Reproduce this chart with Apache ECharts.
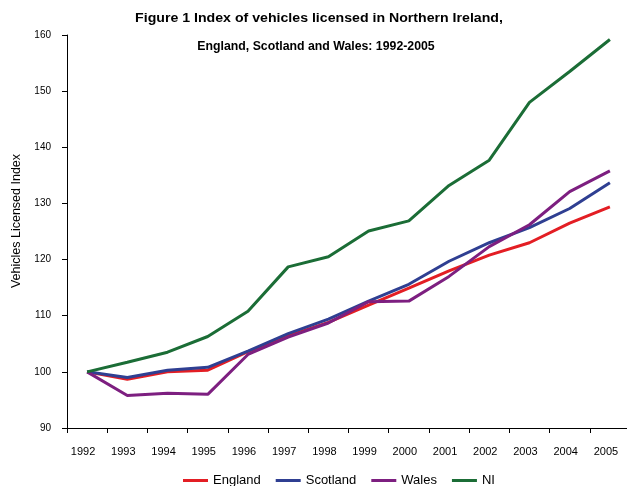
<!DOCTYPE html>
<html><head><meta charset="utf-8">
<script src="https://cdn.jsdelivr.net/npm/echarts@6/dist/echarts.min.js"></script>
<style>html,body{margin:0;padding:0;background:#fff}#c{width:627px;height:486px}</style>
</head><body><div id="c"></div>
<script>
const years = ['1992','1993','1994','1995','1996','1997','1998','1999','2000','2001','2002','2003','2004','2005'];
const england  = [100, 98.7, 100.0, 100.3, 103.6, 106.4, 108.8, 111.9, 114.9, 118.0, 120.8, 123.0, 126.5, 129.4];
const scotland = [100, 99.0, 100.3, 100.8, 103.7, 106.8, 109.4, 112.6, 115.6, 119.7, 123.0, 125.7, 129.1, 133.7];
const wales    = [100, 95.8, 96.2, 96.0, 103.1, 106.2, 108.7, 112.5, 112.6, 117.0, 122.3, 126.2, 132.1, 135.8];
const ni       = [100, 101.7, 103.5, 106.3, 110.8, 118.7, 120.5, 125.1, 126.9, 133.2, 137.7, 148.0, 153.5, 159.2];
const seriesNames = ['England','Scotland','Wales','NI'];
const colors = ['#e31e24','#2f3f92','#7d1f80','#1b6d36'];
const yTicks = {min: 90, max: 160, interval: 10};
const titleLine1 = 'Figure 1 Index of vehicles licensed in Northern Ireland,';
const titleLine2 = 'England, Scotland and Wales: 1992-2005';
const yName = 'Vehicles Licensed Index';

const font = 'Liberation Sans, Arial, Helvetica, sans-serif';
const chart = echarts.init(document.getElementById('c'), null, {renderer: 'canvas'});
const data = [england, scotland, wales, ni];
const tStyle = (t) => ({text: t, fontFamily: font, fontSize: 12.3, fontWeight: 'bold', fill: '#000', textAlign: 'center', textVerticalAlign: 'middle'});
chart.setOption({
  animation: false,
  graphic: [
    {type: 'text', x: 319, y: 19, scaleX: 1.15, style: tStyle(titleLine1)},
    {type: 'text', x: 316, y: 47, style: tStyle(titleLine2)},
    {
      type: 'text', x: 17, y: 221, rotation: Math.PI / 2,
      style: {text: yName, fontFamily: font, fontSize: 12.5, fill: '#000', textAlign: 'center', textVerticalAlign: 'middle'}
    }
  ],
  legend: {
    bottom: -6, left: 178,
    itemWidth: 25, itemHeight: 3, itemGap: 15,
    icon: 'rect',
    textStyle: {fontFamily: font, fontSize: 13, color: '#000'},
    data: seriesNames
  },
  grid: {left: 67, right: -3, top: 35, bottom: 58, containLabel: false, outerBoundsMode: 'none'},
  xAxis: {
    type: 'category', data: years, boundaryGap: true,
    axisLine: {lineStyle: {color: '#000', width: 1}},
    axisTick: {show: true, length: 5, lineStyle: {color: '#000'}},
    axisLabel: {fontFamily: font, fontSize: 11, color: '#000', margin: 18, interval: 0, padding: [0, 8, 0, 0]}
  },
  yAxis: {
    type: 'value', min: yTicks.min, max: yTicks.max, interval: yTicks.interval,
    axisLine: {show: true, lineStyle: {color: '#000', width: 1}},
    axisTick: {show: true, length: 5, lineStyle: {color: '#000'}},
    axisLabel: {fontFamily: font, fontSize: 10, color: '#000', margin: 16},
    splitLine: {show: false}
  },
  series: seriesNames.map((n, i) => ({
    name: n, type: 'line', data: data[i], symbol: 'none',
    lineStyle: {color: colors[i], width: 3}, itemStyle: {color: colors[i]}
  }))
});
</script></body></html>
